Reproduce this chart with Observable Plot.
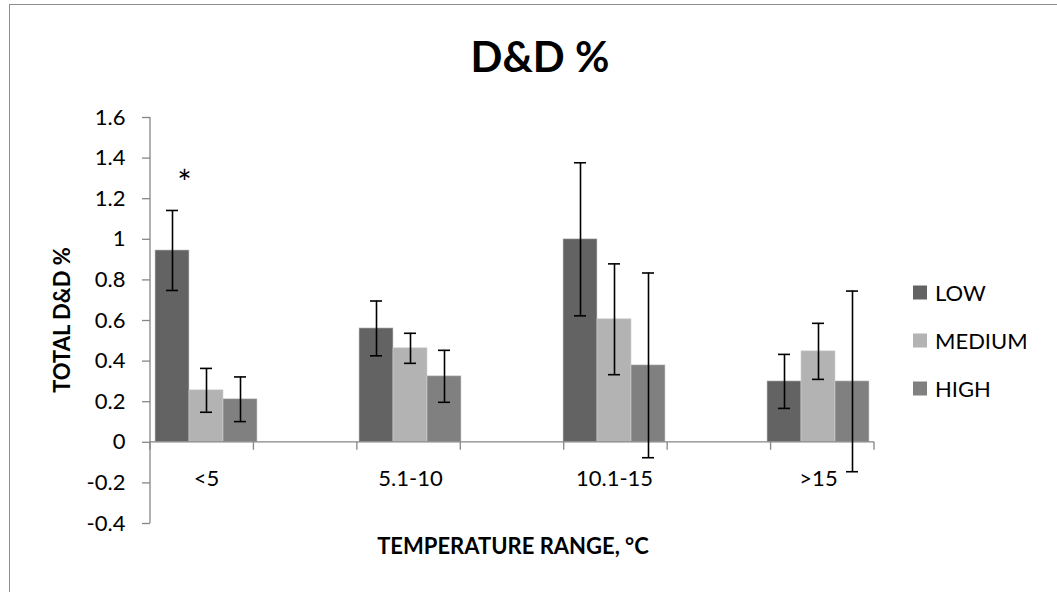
<!DOCTYPE html>
<html>
<head>
<meta charset="utf-8">
<script src="https://cdn.jsdelivr.net/npm/d3@7"></script>
<script src="https://cdn.jsdelivr.net/npm/@observablehq/plot@0.6"></script>
<style>
  html, body { margin: 0; padding: 0; background: #fff; overflow: hidden; }
  #wrap { position: relative; width: 1057px; height: 592px; overflow: hidden; font-family: Lato, "Open Sans", sans-serif; }
  #border { position: absolute; left: 9px; top: 4px; width: 1200px; height: 800px; border: 1px solid #8c8c8c; box-sizing: border-box; }
  #title { position: absolute; left: 0; width: 1080px; top: 31px; text-align: center; font-weight: bold; font-size: 42px; color: #000; }
  #chart { position: absolute; left: 0; top: 0; }
  #ytitle { position: absolute; left: 61px; top: 320px; transform: translate(-50%, -50%) rotate(-90deg); white-space: nowrap; font-weight: bold; font-size: 22px; }
  #xtitle { position: absolute; left: 513px; top: 545px; transform: translate(-50%, -50%); white-space: nowrap; font-weight: bold; font-size: 22px; }
  .leg { position: absolute; left: 913px; display: flex; align-items: center; font-size: 22px; transform: translateY(-50%); }
  .leg span.sw { display: inline-block; width: 14px; height: 14px; margin-right: 8px; }
</style>
</head>
<body>
<div id="wrap">
  <div id="border"></div>
  <div id="title">D&amp;D %</div>
  <div id="chart"></div>
  <div id="ytitle">TOTAL D&amp;D %</div>
  <div id="xtitle">TEMPERATURE RANGE, °C</div>
  <div id="legend"></div>
</div>
<script>
// ---- data ----
const categories = ["<5", "5.1-10", "10.1-15", ">15"];
const slots = ["<5", "", "5.1-10", " ", "10.1-15", "  ", ">15"]; // blank category slots as in the original axis
const series = ["LOW", "MEDIUM", "HIGH"];
const colors = ["#636363", "#b3b3b3", "#808080"];
const lowValues    = [0.945, 0.561, 1.000, 0.300];
const mediumValues = [0.256, 0.463, 0.606, 0.448];
const highValues   = [0.212, 0.325, 0.379, 0.300];
const lowErrors    = [0.197, 0.135, 0.377, 0.133];
const mediumErrors = [0.108, 0.074, 0.273, 0.138];
const highErrors   = [0.110, 0.128, 0.455, 0.445];
const yTicks = [-0.4, -0.2, 0, 0.2, 0.4, 0.6, 0.8, 1, 1.2, 1.4, 1.6];
const annotations = [{cat: "<5", series: "LOW", y: 1.3, text: "*"}];

// ---- build table ----
const key = (c, s) => c + "|" + s;
const valueSets = [lowValues, mediumValues, highValues];
const errorSets = [lowErrors, mediumErrors, highErrors];
const rows = [];
categories.forEach((c, ci) => series.forEach((s, si) => {
  rows.push({cat: c, series: s, key: key(c, s), value: valueSets[si][ci], err: errorSets[si][ci]});
}));
const xDomain = slots.flatMap(c => series.map(s => key(c, s)));

const axisColor = "#868686";
const W = 1057, H = 592, mL = 150, mR = 183, mT = 117, mB = 69;

function axisLines(index, scales, values, dims) {
  const g = d3.create("svg:g").attr("stroke", axisColor).attr("stroke-width", 1.3);
  const y0 = scales.y(0);
  const catBand = d3.scaleBand().domain(slots).range([dims.marginLeft, dims.width - dims.marginRight]).padding(0);
  g.append("line").attr("x1", dims.marginLeft).attr("x2", dims.marginLeft)
    .attr("y1", dims.marginTop).attr("y2", dims.height - dims.marginBottom);
  g.append("line").attr("x1", dims.marginLeft).attr("x2", dims.width - dims.marginRight)
    .attr("y1", y0).attr("y2", y0);
  const bounds = slots.map(s => catBand(s)).concat([catBand(slots[slots.length - 1]) + catBand.bandwidth()]);
  for (const bx of bounds) {
    g.append("line").attr("x1", bx).attr("x2", bx).attr("y1", y0).attr("y2", y0 + 8);
  }
  return g.node();
}

const chart = Plot.plot({
  width: W, height: H,
  marginLeft: mL, marginRight: mR, marginTop: mT, marginBottom: mB,
  style: {fontFamily: "Lato, 'Open Sans', sans-serif", background: "transparent", overflow: "visible"},
  x: {domain: xDomain, padding: 0, axis: null},
  y: {domain: [-0.4, 1.6], axis: null},
  color: {domain: series, range: colors},
  marks: [
    Plot.barY(rows, {x: "key", y: "value", fill: "series", stroke: "#cfcfcf", strokeWidth: 0.6}),
    axisLines,
    Plot.axisY({ticks: yTicks, tickSize: 8, tickPadding: 17, stroke: axisColor, strokeWidth: 1.3,
      tickFormat: d => String(+d.toFixed(1)), fontSize: 22, fill: "#000"}),
    Plot.text(categories, {x: c => key(c, "MEDIUM"), y: () => 0, text: d => d, dy: 37, fontSize: 22, fill: "#000"}),
    Plot.ruleX(rows, {x: "key", y1: d => d.value - d.err, y2: d => d.value + d.err, stroke: "#000", strokeWidth: 1.6}),
    Plot.tickY(rows, {x: "key", y: d => d.value + d.err, stroke: "#000", strokeWidth: 1.6, insetLeft: 11, insetRight: 11}),
    Plot.tickY(rows, {x: "key", y: d => d.value - d.err, stroke: "#000", strokeWidth: 1.6, insetLeft: 11, insetRight: 11}),
    Plot.text(annotations, {x: d => key(d.cat, d.series), y: "y", text: "text", dx: 12, dy: 6, fontSize: 34, fill: "#000"})
  ]
});
document.getElementById("chart").appendChild(chart);

// legend
const legend = document.getElementById("legend");
const legendY = [292, 340, 388];
series.forEach((s, i) => {
  const d = document.createElement("div");
  d.className = "leg";
  d.style.top = legendY[i] + "px";
  d.innerHTML = `<span class="sw" style="background:${colors[i]}"></span><span>${s}</span>`;
  legend.appendChild(d);
});
</script>
</body>
</html>
